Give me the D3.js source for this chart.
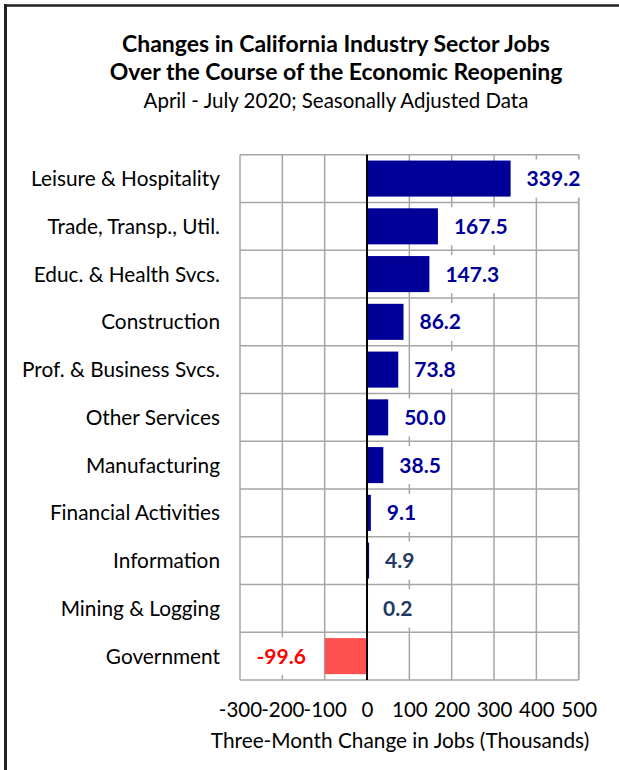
<!DOCTYPE html>
<html><head><meta charset="utf-8">
<script src="https://cdn.jsdelivr.net/npm/d3@7"></script>
<style>body{margin:0;background:#fff}svg{display:block}text{font-family:Lato,"Open Sans",sans-serif}</style>
</head><body><svg id="c" width="619" height="770"></svg>
<script>
const categories = ["Leisure & Hospitality","Trade, Transp., Util.","Educ. & Health Svcs.","Construction","Prof. & Business Svcs.","Other Services","Manufacturing","Financial Activities","Information","Mining & Logging","Government"];
const values = [339.2,167.5,147.3,86.2,73.8,50.0,38.5,9.1,4.9,0.2,-99.6];
const tickValues = [-300,-200,-100,0,100,200,300,400,500];
const titleLines = ["Changes in California Industry Sector Jobs","Over the Course of the Economic Reopening"];
const subtitle = "April - July 2020; Seasonally Adjusted Data";
const xTitle = "Three-Month Change in Jobs (Thousands)";

const svg = d3.select("#c");
const L=240, R=578.7, T=154.7, B=680;
const x = d3.scaleLinear().domain([-300,500]).range([L,R]);
const y = d3.scaleBand().domain(categories).range([T,B]).paddingInner(0.245).paddingOuter(0.1225);
const rowH = (B-T)/categories.length;

// frame
svg.append("line").attr("x1",4).attr("x2",619).attr("y1",5.5).attr("y2",5.5).attr("stroke","#222").attr("stroke-width",2.5);
svg.append("line").attr("x1",5.5).attr("x2",5.5).attr("y1",4).attr("y2",770).attr("stroke","#222").attr("stroke-width",3);

// titles
svg.selectAll("text.title").data(titleLines).join("text").attr("class","title")
  .attr("x",336).attr("y",(d,i)=>52+i*28).attr("text-anchor","middle")
  .attr("font-size",23).attr("font-weight","bold").attr("fill","#000").text(d=>d);
svg.append("text").attr("x",336).attr("y",108).attr("text-anchor","middle").attr("font-size",20.5).attr("fill","#000").text(subtitle);

// grid
const g = svg.append("g");
g.selectAll("line.v").data(tickValues).join("line").attr("class","v")
  .attr("x1",d=>x(d)).attr("x2",d=>x(d)).attr("y1",T).attr("y2",B).attr("stroke","#a6a6a6").attr("stroke-width",1.5);
g.selectAll("line.h").data(d3.range(categories.length+1)).join("line").attr("class","h")
  .attr("x1",L).attr("x2",R).attr("y1",i=>T+i*rowH).attr("y2",i=>T+i*rowH).attr("stroke","#a6a6a6").attr("stroke-width",1.5);
g.append("line").attr("x1",R).attr("x2",R).attr("y1",T).attr("y2",B).attr("stroke","#a6a6a6").attr("stroke-width",1.5);

// bars
svg.selectAll("rect.bar").data(values).join("rect").attr("class","bar")
  .attr("x",d=>x(Math.min(0,d))).attr("width",d=>Math.abs(x(d)-x(0)))
  .attr("y",(d,i)=>y(categories[i])).attr("height",y.bandwidth())
  .attr("fill",d=>d<0?"#ff5050":"#000099");

// zero line
svg.append("line").attr("x1",x(0)).attr("x2",x(0)).attr("y1",T).attr("y2",B).attr("stroke","#000").attr("stroke-width",2);

// labels with white boxes
const lab = svg.append("g");
values.forEach((d,i)=>{
  const cy = y(categories[i]) + y.bandwidth()/2;
  const neg = d<0;
  const tx = neg ? x(d)-19 : x(d)+16;
  const col = neg ? "#ff0000" : (Math.abs(d)<5 ? "#1f3864" : "#000099");
  const t = lab.append("text").attr("x",tx).attr("y",cy).attr("dy","0.36em")
    .attr("text-anchor",neg?"end":"start").attr("font-size",21).attr("font-weight","bold").attr("fill",col).text(d.toFixed(1));
  const bb = t.node().getBBox();
  lab.insert("rect","text").attr("x",bb.x-4).attr("y",cy-19).attr("width",bb.width+8).attr("height",38).attr("fill","#fff");
});

// category labels
svg.selectAll("text.cat").data(categories).join("text").attr("class","cat")
  .attr("x",220).attr("y",d=>y(d)+y.bandwidth()/2).attr("dy","0.36em").attr("text-anchor","end")
  .attr("font-size",20.8).attr("fill","#000").text(d=>d);

// x axis ticks
const ax = svg.append("g").attr("transform",`translate(0,${B})`)
  .call(d3.axisBottom(x).tickValues(tickValues).tickSize(0).tickPadding(22).tickFormat(d=>String(d)));
ax.select(".domain").remove();
ax.selectAll("text").attr("font-size",20.5).attr("fill","#000").attr("font-family","Lato,'Open Sans',sans-serif");

svg.append("text").attr("x",400).attr("y",748).attr("text-anchor","middle").attr("font-size",20.8).attr("fill","#000").text(xTitle);
</script></body></html>
